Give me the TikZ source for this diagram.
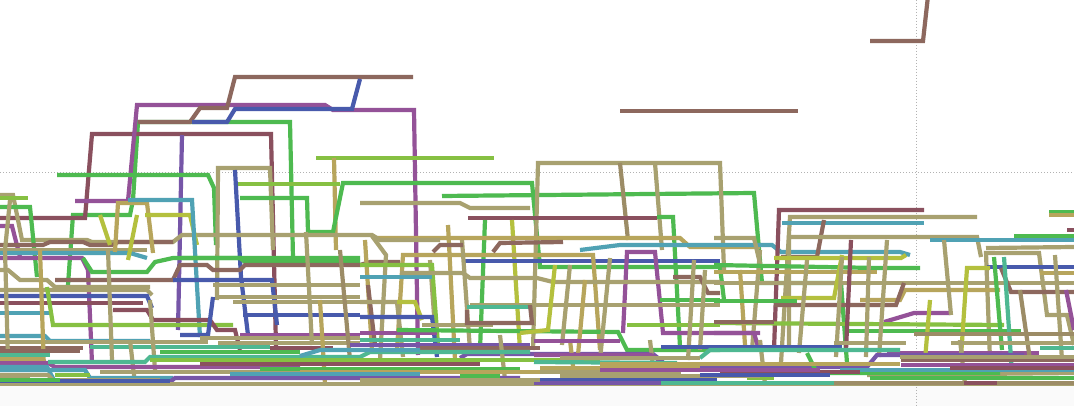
\documentclass[tikz,border=0pt]{standalone}
\definecolor{cbr}{RGB}{141,104,94}
\definecolor{cro}{RGB}{138,80,94}
\definecolor{cpu}{RGB}{148,82,152}
\definecolor{cvi}{RGB}{118,86,168}
\definecolor{cbl}{RGB}{72,90,172}
\definecolor{cgr}{RGB}{78,186,80}
\definecolor{clg}{RGB}{134,192,66}
\definecolor{ckh}{RGB}{168,161,112}
\definecolor{cta}{RGB}{183,165,92}
\definecolor{cyg}{RGB}{180,192,62}
\definecolor{cte}{RGB}{80,162,180}
\definecolor{cse}{RGB}{78,184,146}
\definecolor{col}{RGB}{156,140,102}
\tikzset{ln/.style={line width=4.2pt, line join=miter, miter limit=6},
  grid/.style={black!30, line width=0.8pt, dash pattern=on 1.2pt off 1.8pt}}
\begin{document}
\begin{tikzpicture}[x=1pt,y=-1pt]
\useasboundingbox (0,0) rectangle (1074,406);
\fill[white] (0,0) rectangle (1074,406);
\fill[black!2] (0,386) rectangle (1074,406);
\draw[grid] (0,172) -- (1074,172);
\draw[grid] (916,0) -- (916,406);
\begin{scope}
\clip (0,0) rectangle (1074,386);
% ===== upper structures =====
\draw[ln,cgr] (293,258)--(290,122)--(138,122)--(133,200)--(130,215)--(73,215)--(68,285);
\draw[ln,cro] (276,347)--(271,134)--(92,134)--(85,218)--(0,218);
\draw[ln,cpu] (418,355)--(414,110)--(333,110)--(325,105)--(137,105)--(128,201)--(75,201);
\draw[ln,cbr] (413,77)--(235,77)--(227,108)--(200,108)--(190,122)--(138,122);
\draw[ln,cbl] (360,79)--(352,109)--(235,109)--(227,122)--(192,122);
\draw[ln,cvi] (182,135)--(178,330);
\draw[ln,clg] (316,158)--(494,158);
\draw[ln,cta] (334,158)--(336,250);
\draw[ln,cbr] (870,41)--(923,41)--(928,-4);
\draw[ln,cbr] (620,111)--(798,111);
% ===== around the grid line =====
\draw[ln,cgr] (57,175)--(208,175)--(214,188)--(216,245);
\draw[ln,ckh] (217,300)--(218,168)--(270,168)--(273,250);
\draw[ln,cbl] (235,170)--(241,277)--(248,335);
\draw[ln,cgr] (240,198)--(307,198)--(308,232)--(333,232)--(343,183)--(532,183)--(540,267)--(720,267)--(724,300);
\draw[ln,clg] (238,184)--(340,184);
\draw[ln,cgr] (442,196)--(754,193)--(762,283)--(841,283)--(847,363);
\draw[ln,ckh] (360,203)--(460,203)--(470,208)--(530,208);
\draw[ln,ckh] (533,350)--(538,163)--(720,163)--(724,270);
\draw[ln,col] (620,163)--(628,240);
\draw[ln,ckh] (655,163)--(662,250);
\draw[ln,cro] (468,218)--(657,218);
\draw[ln,cgr] (657,217)--(673,217)--(680,347);
\draw[ln,cgr] (485,220)--(480,350);
\draw[ln,cyg] (512,220)--(520,350);
\draw[ln,cta] (377,238)--(680,238)--(690,247)--(760,247);
\draw[ln,cte] (580,250)--(620,245)--(772,245)--(781,252)--(900,252)--(910,255);
\draw[ln,cbl] (463,261)--(720,261);
\draw[ln,cta] (397,350)--(403,255)--(593,255)--(600,350);
\draw[ln,cpu] (623,333)--(627,252)--(655,252)--(663,333)--(760,333);
\draw[ln,cro] (774,350)--(779,210)--(924,210);
\draw[ln,ckh] (781,363)--(790,217)--(977,217);
\draw[ln,cte] (782,223)--(924,223);
\draw[ln,cbr] (824,220)--(817,257)--(781,257);
\draw[ln,ckh] (789,350)--(789,237)--(977,237)--(981,257);
\draw[ln,cte] (930,240)--(1074,240);
\draw[ln,cgr] (1014,236)--(1074,236);
\draw[ln,cgr] (1049,212)--(1074,212);
\draw[ln,cta] (1049,215)--(1074,215);
\draw[ln,cro] (1067,230)--(1074,230);
\draw[ln,ckh] (986,248)--(1074,247);
\draw[ln,ckh] (990,360)--(986,253)--(1039,253)--(1047,315)--(1067,315)--(1074,345);
\draw[ln,cbl] (987,267)--(1074,267);
\draw[ln,cta] (1040,273)--(1074,273);
\draw[ln,ckh] (714,283)--(1074,283);
\draw[ln,cta] (860,300)--(900,300)--(905,290)--(1000,290);
\draw[ln,cpu] (884,322)--(914,313)--(950,313);
\draw[ln,clg] (714,323)--(1004,325);
\draw[ln,cgr] (844,331)--(1021,331);
\draw[ln,cpu] (887,353)--(1039,353);
% ===== left region =====
\draw[ln,ckh] (0,195)--(13,195)--(22,240)--(87,240)--(92,242)--(173,242)--(182,235)--(372,235)--(380,240)--(440,240);
\draw[ln,clg] (0,198)--(28,198);
\draw[ln,cgr] (0,207)--(30,207)--(37,277);
\draw[ln,cpu] (0,226)--(12,226)--(20,257);
\draw[ln,cbr] (0,245)--(43,245)--(50,242)--(83,242)--(90,245)--(113,245)--(118,242)--(173,242);
\draw[ln,ckh] (0,250)--(147,250);
\draw[ln,cte] (0,253)--(130,253)--(147,258);
\draw[ln,cpu] (0,258)--(82,258)--(88,270)--(92,363);
\draw[ln,cta] (115,252)--(118,203)--(147,203)--(153,253);
\draw[ln,cyg] (100,215)--(110,245);
\draw[ln,cyg] (137,215)--(128,260);
\draw[ln,cyg] (145,215)--(190,215)--(197,245);
\draw[ln,cte] (128,200)--(192,200)--(200,337);
\draw[ln,cgr] (83,258)--(92,272)--(147,272)--(155,262)--(173,258)--(360,258);
\draw[ln,cgr] (182,258)--(240,258)--(245,262)--(360,262);
\draw[ln,cbr] (55,280)--(173,280)--(180,265)--(207,265)--(213,270)--(240,270)--(245,265)--(360,265)--(370,262)--(400,262);
\draw[ln,cbl] (173,280)--(272,280)--(277,325);
\draw[ln,ckh] (0,270)--(8,270)--(20,280)--(47,280)--(55,287)--(150,287);
\draw[ln,ckh] (213,285)--(360,285);
\draw[ln,ckh] (0,290)--(147,290)--(152,295);
\draw[ln,cbl] (0,296)--(147,296)--(152,308);
\draw[ln,ckh] (217,297)--(360,297);
\draw[ln,ckh] (233,302)--(360,302);
\draw[ln,cro] (0,303)--(143,303);
\draw[ln,cte] (0,313)--(52,313);
\draw[ln,cbl] (243,315)--(360,315);
\draw[ln,clg] (47,287)--(53,325)--(233,325);
\draw[ln,cro] (113,310)--(147,310)--(153,320)--(210,320)--(217,330)--(235,330)--(240,350);
\draw[ln,cpu] (240,335)--(360,335);
\draw[ln,cbl] (180,335)--(208,335)--(213,297);
\draw[ln,cte] (0,336)--(45,336)--(50,341)--(150,341);
\draw[ln,ckh] (0,342)--(208,342);
\draw[ln,ckh] (200,338)--(360,338);
\draw[ln,ckh] (218,343)--(360,343);
\draw[ln,cse] (90,347)--(270,347);
\draw[ln,cbr] (0,348)--(83,348);
\draw[ln,cro] (270,348)--(333,348);
\draw[ln,ckh] (10,200)--(5,250)--(8,360);
\draw[ln,cta] (40,250)--(44,370);
\draw[ln,ckh] (108,250)--(112,360);
\draw[ln,ckh] (150,300)--(155,370);
\draw[ln,ckh] (130,340)--(135,384);
\draw[ln,cta] (320,300)--(325,384);
% ===== left-middle verticals =====
\draw[ln,ckh] (306,232)--(312,345);
\draw[ln,col] (340,250)--(350,360);
\draw[ln,cta] (365,240)--(372,350);
\draw[ln,ckh] (372,236)--(386,255)--(380,360);
\draw[ln,cbr] (368,285)--(375,345);
\draw[ln,ckh] (430,260)--(437,355);
\draw[ln,cta] (448,225)--(455,360);
\draw[ln,ckh] (462,240)--(470,350);
% ===== middle =====
\draw[ln,cbr] (433,252)--(440,245)--(463,245);
\draw[ln,cbr] (493,252)--(500,243)--(563,242);
\draw[ln,clg] (360,265)--(432,265)--(438,345);
\draw[ln,cte] (360,277)--(432,277);
\draw[ln,ckh] (400,273)--(463,273)--(470,278)--(537,278)--(553,282)--(720,282);
\draw[ln,cbr] (673,277)--(700,277)--(708,293)--(720,293);
\draw[ln,ckh] (360,302)--(397,302)--(403,357);
\draw[ln,cyg] (397,302)--(415,302)--(422,320);
\draw[ln,ckh] (470,305)--(720,305);
\draw[ln,cse] (467,307)--(530,307);
\draw[ln,cbl] (360,317)--(432,317)--(437,357);
\draw[ln,ckh] (422,325)--(493,325);
\draw[ln,clg] (627,325)--(720,325);
\draw[ln,cgr] (660,300)--(720,300);
\draw[ln,cpu] (360,333)--(437,333);
\draw[ln,cse] (360,340)--(460,340);
\draw[ln,cvi] (350,345)--(530,345);
\draw[ln,cbr] (420,348)--(540,348);
\draw[ln,cgr] (397,330)--(618,332)--(627,350)--(720,350);
\draw[ln,cbr] (467,310)--(467,323)--(532,323)--(530,305);
\draw[ln,cvi] (460,358)--(467,354)--(653,354)--(663,362);
\draw[ln,cyg] (555,265)--(548,330)--(520,333);
\draw[ln,ckh] (570,265)--(562,345);
\draw[ln,cta] (585,280)--(578,355);
\draw[ln,ckh] (610,258)--(600,360);
\draw[ln,ckh] (694,260)--(688,360);
\draw[ln,ckh] (705,270)--(700,350);
\draw[ln,cta] (740,270)--(745,345);
\draw[ln,ckh] (760,250)--(752,350);
\draw[ln,ckh] (500,335)--(505,380);
\draw[ln,cta] (570,340)--(575,384);
\draw[ln,ckh] (650,340)--(655,384);
\draw[ln,cpu] (534,341)--(620,341);
% ===== right =====
\draw[ln,ckh] (714,238)--(754,238)--(761,268);
\draw[ln,cyg] (774,258)--(901,258)--(906,255);
\draw[ln,cgr] (714,265)--(877,268)--(920,268);
\draw[ln,cta] (714,272)--(877,272);
\draw[ln,cyg] (781,298)--(834,298)--(842,255);
\draw[ln,cbr] (774,305)--(867,305)--(896,305)--(904,283);
\draw[ln,cbr] (1001,268)--(1011,292)--(1074,292);
\draw[ln,ckh] (807,260)--(799,353);
\draw[ln,ckh] (842,257)--(836,357);
\draw[ln,ckh] (869,257)--(866,357);
\draw[ln,ckh] (887,240)--(879,357);
\draw[ln,ckh] (944,240)--(951,315);
\draw[ln,cyg] (990,268)--(967,268)--(961,357);
\draw[ln,cse] (1004,257)--(1012,373);
\draw[ln,cgr] (994,257)--(1002,350);
\draw[ln,cro] (851,240)--(846,350);
\draw[ln,col] (1020,290)--(1030,360);
\draw[ln,ckh] (1055,255)--(1062,360);
\draw[ln,cyg] (930,300)--(925,360);
\draw[ln,cpu] (1066,290)--(1074,330);
\draw[ln,cgr] (714,301)--(797,301);
\draw[ln,cbr] (714,322)--(774,322);
\draw[ln,cpu] (714,333)--(754,333)--(759,350);
\draw[ln,cbl] (714,347)--(842,347);
\draw[ln,ckh] (834,343)--(906,343);
\draw[ln,col] (914,334)--(1074,334);
\draw[ln,ckh] (951,343)--(1074,343);
\draw[ln,ckh] (760,340)--(765,384);
\draw[ln,ckh] (960,340)--(965,384);
% ===== bottom jumble =====
\draw[ln,cbr] (0,351)--(80,351);
\draw[ln,cse] (0,355)--(50,355);
\draw[ln,cpu] (0,363)--(48,363)--(55,367)--(300,367);
\draw[ln,cte] (0,367)--(47,367)--(55,382);
\draw[ln,cse] (48,362)--(145,362)--(150,357)--(360,357)--(370,352)--(530,352);
\draw[ln,cte] (0,370)--(85,370)--(90,378)--(173,378);
\draw[ln,clg] (55,375)--(90,375);
\draw[ln,ckh] (0,375)--(48,375)--(55,382)--(170,382);
\draw[ln,cvi] (170,382)--(175,378)--(520,378);
\draw[ln,cse] (420,382)--(534,382);
\draw[ln,clg] (150,360)--(600,360);
\draw[ln,cta] (0,359)--(45,359);
\draw[ln,ckh] (100,372)--(420,372);
\draw[ln,cro] (200,364)--(480,364);
\draw[ln,cgr] (260,369)--(520,369);
\draw[ln,cte] (300,356)--(320,350)--(420,350);
\draw[ln,ckh] (0,384)--(1074,384);
\draw[ln,cpu] (534,355)--(651,355)--(659,360);
\draw[ln,cse] (534,362)--(677,363);
\draw[ln,ckh] (534,372)--(681,372);
\draw[ln,cvi] (681,367)--(867,367)--(877,355)--(1024,355);
\draw[ln,cbl] (661,347)--(834,347);
\draw[ln,cbl] (534,380)--(717,380);
\draw[ln,cvi] (534,383)--(661,383);
\draw[ln,cse] (661,383)--(834,383);
\draw[ln,col] (834,383)--(1074,383);
\draw[ln,cro] (964,383)--(997,383);
\draw[ln,cbr] (901,360)--(1074,360);
\draw[ln,cpu] (901,365)--(1074,365);
\draw[ln,ckh] (867,375)--(1074,373);
\draw[ln,cgr] (807,353)--(817,373)--(1000,373);
\draw[ln,clg] (747,378)--(774,378);
\draw[ln,cta] (540,368)--(700,368);
\draw[ln,cse] (700,358)--(710,350)--(900,350);
\draw[ln,ckh] (560,376)--(760,376);
\draw[ln,cte] (840,370)--(1074,370);
\draw[ln,cro] (720,372)--(860,372);
\draw[ln,cgr] (460,376)--(500,376);
\draw[ln,ckh] (30,380)--(160,380);
\draw[ln,cgr] (160,352)--(300,352);
\draw[ln,cta] (300,372)--(540,372);
\draw[ln,ckh] (0,378)--(30,378);
\draw[ln,cbl] (0,381)--(170,381);
\draw[ln,cte] (230,374)--(420,374);
\draw[ln,cpu] (600,370)--(820,370);
\draw[ln,cgr] (870,378)--(1074,378);
\draw[ln,ckh] (900,357)--(1074,357);
\draw[ln,cro] (950,368)--(1074,368);
\draw[ln,cbl] (700,375)--(830,375);
\draw[ln,cse] (1040,348)--(1074,348);
\draw[ln,ckh] (560,358)--(700,358);
\draw[ln,cgr] (0,380)--(60,380);
\draw[ln,cta] (600,364)--(900,364);
\draw[ln,ckh] (360,380)--(540,380);
\end{scope}
\end{tikzpicture}
\end{document}
